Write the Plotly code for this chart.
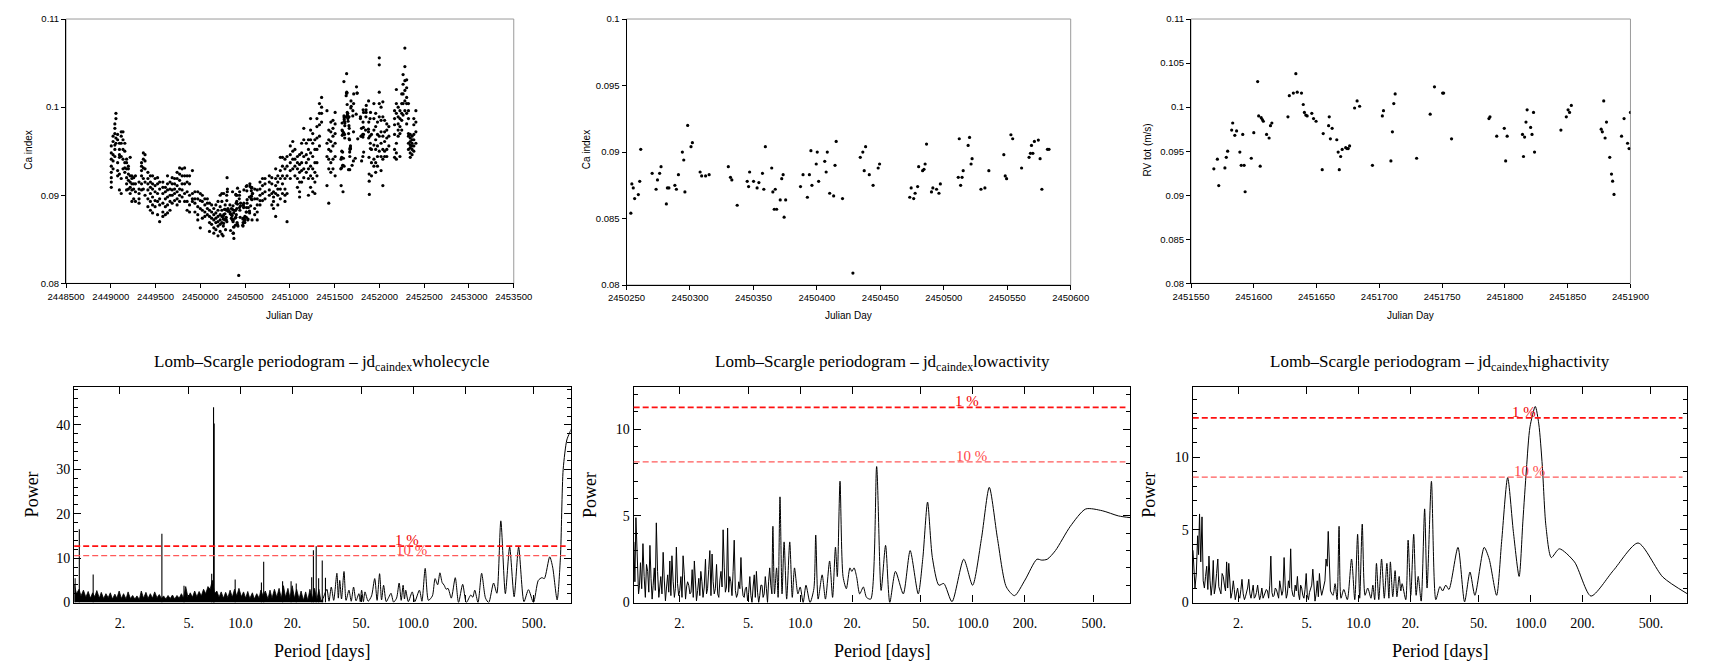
import math
import plotly.graph_objects as go

# ------------------------------------------------------------------ data
# Whole cycle Ca index: observation dates (JD) with the values read at each date
WHOLE_JD = [2449005, 2449025, 2449045, 2449057, 2449076, 2449096, 2449116, 2449136, 2449156, 2449176,
            2449196, 2449216, 2449235, 2449255, 2449275,
            2449315, 2449343, 2449363, 2449382, 2449414, 2449442, 2449466, 2449494, 2449522, 2449545,
            2449581, 2449609, 2449633, 2449661, 2449685, 2449712, 2449740, 2449768, 2449796, 2449824,
            2449852, 2449879, 2449911, 2449939,
            2449971, 2449999, 2450022, 2450050, 2450078, 2450102, 2450126, 2450150, 2450173, 2450197,
            2450221, 2450240,
            2450607, 2450635, 2450666, 2450694, 2450722, 2450770, 2450798, 2450817, 2450841, 2450865,
            2450893, 2450917, 2450945, 2450968,
            2451004, 2451032, 2451056, 2451084, 2451108, 2451131, 2451155, 2451183, 2451207, 2451231,
            2451255, 2451279, 2451302, 2451330, 2451354,
            2451414, 2451434, 2451457, 2451481, 2451505,
            2451911, 2451938, 2451958, 2451978, 2451998, 2452018, 2452038, 2452058, 2452082, 2452105,
            2452169, 2452189, 2452209, 2452229, 2452249, 2452264, 2452284, 2452304, 2452324, 2452344,
            2452364, 2452384, 2452407]
WHOLE_CA = [
    [0.0956, 0.0948, 0.0941, 0.0933, 0.0926, 0.0920, 0.0915, 0.0909],
    [0.0967, 0.0961, 0.0946, 0.0939, 0.0930],
    [0.0981, 0.0976, 0.0970, 0.0957, 0.0952, 0.0944],
    [0.0993, 0.0987, 0.0965, 0.0959],
    [0.0969, 0.0963, 0.0937, 0.0928, 0.0922],
    [0.0959, 0.0952, 0.0946, 0.0943, 0.0924, 0.0906],
    [0.0972, 0.0967, 0.0959, 0.0944, 0.0919, 0.0902],
    [0.0972, 0.0963, 0.0952, 0.0941, 0.0930],
    [0.0959, 0.0950, 0.0937, 0.0931, 0.0926],
    [0.0941, 0.0937, 0.0930, 0.0920, 0.0913, 0.0906],
    [0.0933, 0.0930, 0.0924, 0.0917, 0.0907],
    [0.0943, 0.0922, 0.0915, 0.0909, 0.0902],
    [0.0922, 0.0919, 0.0913, 0.0906, 0.0893],
    [0.0920, 0.0913, 0.0907, 0.0896],
    [0.0922, 0.0913, 0.0904, 0.0893],
    [0.0915, 0.0907, 0.0902, 0.0896, 0.0891],
    [0.0937, 0.0933, 0.0928, 0.0922, 0.0913, 0.0906],
    [0.0948, 0.0941, 0.0931, 0.0919, 0.0907],
    [0.0946, 0.0939, 0.0930, 0.0915, 0.0900],
    [0.0926, 0.0919, 0.0913, 0.0906, 0.0896, 0.0887],
    [0.0922, 0.0915, 0.0909, 0.0902, 0.0893, 0.0883],
    [0.0922, 0.0913, 0.0907, 0.0898, 0.0889, 0.0880],
    [0.0919, 0.0911, 0.0904, 0.0894, 0.0887],
    [0.0920, 0.0913, 0.0902, 0.0893, 0.0878],
    [0.0915, 0.0907, 0.0896, 0.0889, 0.0870],
    [0.0915, 0.0909, 0.0902, 0.0891, 0.0881, 0.0876],
    [0.0909, 0.0904, 0.0896, 0.0887, 0.0878],
    [0.0922, 0.0913, 0.0906, 0.0898, 0.0889, 0.0880],
    [0.0915, 0.0907, 0.0900, 0.0893, 0.0883],
    [0.0920, 0.0913, 0.0906, 0.0900, 0.0891],
    [0.0919, 0.0913, 0.0907, 0.0902, 0.0894],
    [0.0926, 0.0919, 0.0911, 0.0904, 0.0896, 0.0889],
    [0.0931, 0.0924, 0.0917, 0.0907, 0.0900, 0.0893],
    [0.0930, 0.0922, 0.0913, 0.0906, 0.0898],
    [0.0931, 0.0922, 0.0913, 0.0902, 0.0893],
    [0.0922, 0.0915, 0.0904, 0.0893, 0.0883],
    [0.0922, 0.0913, 0.0900, 0.0889, 0.0881],
    [0.0928, 0.0902, 0.0896, 0.0893],
    [0.0904, 0.0896, 0.0891, 0.0881],
    [0.0904, 0.0896, 0.0887, 0.0878, 0.0872],
    [0.0902, 0.0894, 0.0885, 0.0863],
    [0.0900, 0.0893, 0.0883, 0.0874],
    [0.0896, 0.0889, 0.0881, 0.0876],
    [0.0896, 0.0891, 0.0885, 0.0878],
    [0.0891, 0.0883, 0.0876, 0.0869, 0.0859],
    [0.0889, 0.0881, 0.0874, 0.0867],
    [0.0885, 0.0878, 0.0872, 0.0863, 0.0857],
    [0.0889, 0.0880, 0.0874, 0.0869, 0.0861],
    [0.0893, 0.0883, 0.0876, 0.0870, 0.0865, 0.0854],
    [0.0900, 0.0887, 0.0878, 0.0872, 0.0867, 0.0859],
    [0.0902, 0.0893, 0.0883, 0.0876, 0.0869, 0.0856],
    [0.0907, 0.0896, 0.0885, 0.0878],
    [0.0906, 0.0896, 0.0889, 0.0881, 0.0872],
    [0.0915, 0.0907, 0.0900, 0.0894, 0.0889],
    [0.0919, 0.0911, 0.0902, 0.0894],
    [0.0919, 0.0913, 0.0904, 0.0896],
    [0.0922, 0.0915, 0.0906, 0.0900],
    [0.0920, 0.0913, 0.0902, 0.0889],
    [0.0904, 0.0898, 0.0893, 0.0885],
    [0.0930, 0.0919, 0.0911, 0.0902, 0.0876],
    [0.0922, 0.0915, 0.0907, 0.0900, 0.0889],
    [0.0943, 0.0928, 0.0919, 0.0907, 0.0896],
    [0.0943, 0.0933, 0.0922, 0.0913, 0.0902],
    [0.0941, 0.0930, 0.0919, 0.0907, 0.0900, 0.0893],
    [0.0944, 0.0933, 0.0922, 0.0902, 0.0870],
    [0.0956, 0.0946, 0.0937, 0.0928, 0.0919],
    [0.0961, 0.0950, 0.0941, 0.0930],
    [0.0952, 0.0941, 0.0933, 0.0922],
    [0.0944, 0.0937, 0.0930, 0.0919, 0.0909],
    [0.0946, 0.0935, 0.0926, 0.0915, 0.0904, 0.0898],
    [0.0959, 0.0948, 0.0937, 0.0928, 0.0915],
    [0.0976, 0.0963, 0.0944, 0.0930, 0.0920],
    [0.0959, 0.0946, 0.0937, 0.0926],
    [0.0963, 0.0952, 0.0941, 0.0930, 0.0919, 0.0900],
    [0.0987, 0.0974, 0.0963, 0.0948, 0.0933, 0.0922, 0.0909],
    [0.0970, 0.0959, 0.0944, 0.0930, 0.0919, 0.0904],
    [0.0963, 0.0952, 0.0937, 0.0926, 0.0915, 0.0902],
    [0.0987, 0.0978, 0.0965, 0.0952, 0.0937, 0.0922],
    [0.1004, 0.0993, 0.0980, 0.0967, 0.0956],
    [0.1011, 0.1000, 0.0993, 0.0983],
    [0.0996, 0.0959, 0.0944, 0.0911],
    [0.0974, 0.0963, 0.0952, 0.0941, 0.0930, 0.0891],
    [0.0983, 0.0972, 0.0961, 0.0950, 0.0937, 0.0926],
    [0.0985, 0.0976, 0.0967, 0.0956, 0.0941, 0.0930],
    [0.0994, 0.0981, 0.0970, 0.0959, 0.0944, 0.0922],
    [0.0969, 0.0952, 0.0937, 0.0922],
    [0.1004, 0.0987, 0.0974, 0.0957, 0.0941, 0.0933],
    [0.0993, 0.0978, 0.0963, 0.0952, 0.0937, 0.0926],
    [0.0983, 0.0969, 0.0956, 0.0944, 0.0933],
    [0.1056, 0.1048, 0.1017, 0.1004, 0.0989, 0.0967, 0.0950],
    [0.1000, 0.0985, 0.0972, 0.0959, 0.0944, 0.0928],
    [0.1006, 0.0989, 0.0967, 0.0952, 0.0941, 0.0911],
    [0.0985, 0.0972, 0.0961, 0.0950, 0.0944],
    [0.0981, 0.0974, 0.0965, 0.0952, 0.0944],
    [0.0978, 0.0967, 0.0956],
    [0.0996, 0.0987, 0.0980, 0.0969, 0.0952, 0.0943],
    [0.1020, 0.1004, 0.0993, 0.0959, 0.0948, 0.0941],
    [0.1000, 0.0989, 0.0981, 0.0974, 0.0967],
    [0.0996, 0.0987, 0.0978, 0.0970, 0.0944],
    [0.1015, 0.1004, 0.0993, 0.0985, 0.0974],
    [0.1037, 0.1026, 0.1015, 0.1004, 0.0991],
    [0.1067, 0.1046, 0.1030, 0.1019, 0.1007, 0.0996],
    [0.1031, 0.1022, 0.1011, 0.1004, 0.0993, 0.0981],
    [0.1004, 0.0996, 0.0987, 0.0970, 0.0967, 0.0959, 0.0952],
    [0.0969, 0.0965, 0.0961, 0.0957, 0.0954, 0.0948, 0.0943],
    [0.0967, 0.0963, 0.0959, 0.0956, 0.0952, 0.0946],
    [0.0987, 0.0980, 0.0969, 0.0963, 0.0956, 0.0950],
    [0.0996, 0.0983, 0.0972, 0.0959],
]

# Low activity season (also part of the whole cycle)
LOW_JD = [2450253.4, 2450254.2, 2450255.3, 2450256.4, 2450259.3, 2450260.4, 2450261.2, 2450270.2, 2450273.3,
          2450274.4, 2450276.1, 2450277.2, 2450281.4, 2450282.2, 2450283.4, 2450288.1, 2450289.3, 2450290.9,
          2450294.0, 2450295.1, 2450296.0, 2450298.2, 2450300.8, 2450301.9, 2450308.0, 2450309.2, 2450312.3,
          2450315.1, 2450330.2, 2450331.9, 2450333.0, 2450337.2, 2450345.1, 2450346.2, 2450347.0, 2450350.1,
          2450352.9, 2450354.3, 2450357.1, 2450358.2, 2450359.4, 2450364.4, 2450365.3, 2450366.4, 2450367.2,
          2450368.3, 2450371.1, 2450372.3, 2450373.4, 2450374.2, 2450375.4, 2450387.1, 2450389.1, 2450392.5,
          2450394.1, 2450395.3, 2450396.1, 2450399.5, 2450400.3, 2450401.4, 2450406.2, 2450407.3, 2450408.2,
          2450410.1, 2450413.2, 2450414.3, 2450415.2, 2450420.2, 2450428.4, 2450434.2, 2450436.2, 2450437.3,
          2450438.4, 2450441.3, 2450444.3, 2450448.3, 2450449.4, 2450473.2, 2450474.3, 2450476.3, 2450477.4,
          2450479.4, 2450480.2, 2450483.3, 2450484.4, 2450485.3, 2450486.4, 2450490.3, 2450491.4, 2450494.3,
          2450496.2, 2450497.3, 2450511.4, 2450512.2, 2450513.3, 2450514.4, 2450515.3, 2450519.2, 2450520.3,
          2450521.5, 2450522.3, 2450529.3, 2450532.4, 2450535.5, 2450547.3, 2450548.4, 2450549.5, 2450552.9,
          2450554.3, 2450561.3, 2450567.2, 2450568.3, 2450569.1, 2450570.2, 2450571.4, 2450574.5, 2450575.9,
          2450577.3, 2450581.7, 2450582.9]
LOW_CA = [0.0854, 0.0876, 0.0873, 0.0865, 0.0868, 0.0878, 0.0902, 0.0884, 0.0872,
          0.0879, 0.0884, 0.0889, 0.0861, 0.0873, 0.0873, 0.0875, 0.0872, 0.0883,
          0.0900, 0.0894, 0.0870, 0.0920, 0.0904, 0.0907, 0.0885, 0.0882, 0.0882,
          0.0883, 0.0889, 0.0881, 0.0879, 0.0860, 0.0878, 0.0874, 0.0885, 0.0878,
          0.0873, 0.0877, 0.0884, 0.0872, 0.0904, 0.0888, 0.0870, 0.0857, 0.0872,
          0.0857, 0.0864, 0.0880, 0.0883, 0.0851, 0.0864, 0.0874, 0.0883, 0.0866,
          0.0883, 0.0901, 0.0875, 0.0891, 0.0900, 0.0878, 0.0893, 0.0885, 0.0900,
          0.0869, 0.0867, 0.0890, 0.0908, 0.0865, 0.0809, 0.0896, 0.0900, 0.0886,
          0.0904, 0.0883, 0.0875, 0.0888, 0.0891, 0.0866, 0.0873, 0.0865, 0.0869,
          0.0874, 0.0889, 0.0886, 0.0887, 0.0891, 0.0906, 0.0870, 0.0873, 0.0872,
          0.0869, 0.0876, 0.0881, 0.0910, 0.0875, 0.0881, 0.0886, 0.0905, 0.0911,
          0.0891, 0.0895, 0.0872, 0.0873, 0.0886, 0.0898, 0.0882, 0.0880, 0.0913,
          0.0910, 0.0888, 0.0896, 0.0899, 0.0905, 0.0899, 0.0908, 0.0909, 0.0895,
          0.0872, 0.0902, 0.0902]

# High activity season (also part of the whole cycle)
HIGH_JD = [2451568.2, 2451571.0, 2451572.1, 2451577.0, 2451578.1, 2451579.2, 2451582.4, 2451583.2, 2451584.9,
           2451586.3, 2451588.9, 2451590.0, 2451591.2, 2451592.3, 2451593.1, 2451598.0, 2451600.0, 2451603.1,
           2451603.9, 2451605.1, 2451605.9, 2451606.8, 2451607.6, 2451610.2, 2451612.2, 2451613.3, 2451614.4,
           2451627.2, 2451628.3, 2451631.5, 2451633.5, 2451634.6, 2451638.0, 2451639.4, 2451640.3, 2451641.4,
           2451642.5, 2451646.2, 2451647.6, 2451649.6, 2451654.5, 2451655.3, 2451659.6, 2451660.1, 2451661.0,
           2451662.4, 2451666.1, 2451667.2, 2451668.1, 2451669.2, 2451670.4, 2451673.2, 2451674.3, 2451675.2,
           2451676.3, 2451680.3, 2451682.3, 2451684.3, 2451694.5, 2451702.4, 2451703.3, 2451709.2, 2451710.4,
           2451711.5, 2451712.6, 2451729.7, 2451740.5, 2451743.9, 2451750.4, 2451751.2, 2451757.5, 2451787.3,
           2451788.1, 2451793.5, 2451799.5, 2451800.6, 2451801.8, 2451814.0, 2451814.8, 2451815.7, 2451816.8,
           2451817.7, 2451820.5, 2451821.6, 2451822.8, 2451823.6, 2451844.6, 2451848.9, 2451850.3, 2451851.5,
           2451852.9, 2451876.7, 2451877.6, 2451878.7, 2451879.8, 2451880.9, 2451883.5, 2451884.9, 2451885.8,
           2451886.9, 2451892.9, 2451894.9, 2451897.7, 2451898.9, 2451900.0]
HIGH_RV = [0.0930, 0.0941, 0.0911, 0.0931, 0.0943, 0.0950, 0.0974, 0.0982, 0.0968,
           0.0973, 0.0949, 0.0934, 0.0969, 0.0934, 0.0904, 0.0942, 0.0971, 0.1029,
           0.0990, 0.0933, 0.0988, 0.0986, 0.0984, 0.0969, 0.0965, 0.0979, 0.0982,
           0.0989, 0.1013, 0.1016, 0.1038, 0.1017, 0.1016, 0.1003, 0.0994, 0.0991,
           0.0990, 0.0993, 0.0987, 0.0984, 0.0929, 0.0970, 0.0979, 0.0989, 0.0964,
           0.0976, 0.0963, 0.0949, 0.0929, 0.0944, 0.0952, 0.0954, 0.0953, 0.0953,
           0.0956, 0.0999, 0.1007, 0.1001, 0.0934, 0.0990, 0.0996, 0.0939, 0.0972,
           0.1004, 0.1015, 0.0942, 0.0992, 0.1023, 0.1016, 0.1016, 0.0964, 0.0987,
           0.0989, 0.0967, 0.0976, 0.0939, 0.0967, 0.0969, 0.0944, 0.0966, 0.0983,
           0.0997, 0.0977, 0.0969, 0.0994, 0.0949, 0.0974, 0.0989, 0.0997, 0.0994,
           0.1002, 0.0975, 0.0972, 0.1007, 0.0965, 0.0983, 0.0943, 0.0924, 0.0916,
           0.0901, 0.0967, 0.0987, 0.0959, 0.0953, 0.0994]

# Periodograms: short-period grid (days) shared by the noise envelopes
GRID_P = [1.09, 1.12, 1.16, 1.19, 1.23, 1.27, 1.31, 1.35, 1.39, 1.43,
          1.47, 1.52, 1.56, 1.61, 1.66, 1.71, 1.76, 1.81, 1.87, 1.92,
          1.98, 2.04, 2.10, 2.17, 2.23, 2.30, 2.37, 2.44, 2.51, 2.59,
          2.66, 2.74, 2.83, 2.91, 3.00, 3.09, 3.18, 3.28, 3.38, 3.48,
          3.58, 3.69, 3.80, 3.91, 4.03, 4.15, 4.28, 4.41, 4.54, 4.67,
          4.81, 4.96, 5.11, 5.26, 5.42, 5.58, 5.75, 5.92, 6.10, 6.28,
          6.47, 6.66, 6.86, 7.07, 7.28, 7.50, 7.72, 7.95, 8.19, 8.44,
          8.69, 8.95, 9.22, 9.50, 9.78, 10.1, 10.4, 10.7, 11.0, 11.3,
          11.7, 12.0, 12.4, 12.8, 13.1, 13.5, 13.9, 14.4, 14.8, 15.2,
          15.7, 16.2, 16.7, 17.2, 17.7, 18.2, 18.8, 19.3, 19.9, 20.5,
          21.1, 21.8, 22.4, 23.1, 23.8, 24.5, 25.2, 26.0, 26.8, 27.6,
          28.4, 29.2, 30.1]

WHOLE_NOISE = [4.0, 2.0, 3.0, 1.5, 2.8, 1.2, 2.5, 1.0, 2.2, 1.3,
               2.7, 1.0, 2.3, 0.9, 2.0, 1.1, 2.2, 0.8, 1.9, 1.0,
               2.6, 0.9, 2.0, 0.8, 2.4, 0.9, 1.6, 0.8, 1.5, 0.7,
               2.6, 1.0, 2.3, 0.9, 2.0, 1.0, 2.4, 1.1, 1.8, 0.9,
               1.5, 0.8, 1.6, 0.9, 1.7, 0.8, 1.6, 1.0, 2.0, 1.0,
               3.6, 1.1, 2.2, 1.2, 2.6, 1.3, 2.5, 1.5, 3.0, 2.0,
               3.6, 3.0, 5.0, 2.0, 2.6, 1.2, 2.4, 1.0, 2.3, 1.1,
               2.8, 1.2, 3.0, 1.5, 3.2, 1.3, 2.4, 1.0, 2.5, 0.9,
               2.2, 0.8, 2.0, 1.0, 2.8, 1.5, 2.6, 0.8, 2.8, 1.0,
               3.0, 1.2, 3.2, 1.0, 3.8, 1.2, 3.2, 1.0, 3.8, 1.0,
               3.0, 0.8, 2.6, 0.5, 2.4, 0.5, 3.0, 0.8, 3.2, 0.5,
               3.0, 0.3, 1.0]
WHOLE_SPIKE_P = [1.10, 1.164, 1.40, 3.50, 4.7, 6.80, 6.97, 7.03, 9.3, 13.2, 13.6, 17.5, 19.6, 21.0,
                 25.8, 26.4, 27.4, 28.3, 29.7, 31.0]
WHOLE_SPIKE_W = [5.5, 16.5, 6.3, 15.5, 3.8, 6.5, 44.0, 40.3, 5.2, 4.5, 9.2, 4.8, 4.8, 4.3,
                 5.7, 11.8, 12.7, 5.5, 9.5, 5.6]
WHOLE_LONG_P = [31.6, 32.5, 33.5, 34.6, 36.1, 36.8, 37.5, 38.4, 39.7, 40.8,
                42.4, 43.7, 45.1, 46.6, 48.4, 49.3, 50.2, 51.4, 52.5, 54.8,
                57.3, 59.8, 61.7, 63.8, 65.5, 67.3, 69.7, 72.1, 74.3, 76.9,
                80.0, 82.8, 85.1, 87.3, 88.9, 90.4, 93.6, 98.6, 102, 108.5,
                112.2, 117.2, 122.4, 129, 133.7, 138.4, 142.6, 147, 151, 155,
                158.9, 166, 175, 182.8, 193.2, 202.8, 215.3, 221, 227, 237,
                248.8, 262, 273.5, 291.7, 304.8, 321.3, 341.3, 361.4, 383.7, 407.4,
                437.5, 464.5, 496.6, 529.7, 555.9, 574.1, 616.6, 641.2, 680.8, 711.2,
                737.9, 774.5, 803.5, 831]
WHOLE_LONG_W = [3.0, 0.3, 3.5, 0.5, 6.6, 1.0, 5.0, 0.8, 7.0, 0.5,
                2.8, 0.3, 3.5, 0.4, 2.0, 0.2, 2.8, 0.2, 2.4, 0.3,
                1.5, 5.4, 0.5, 6.5, 0.6, 3.9, 0.2, 1.2, 2.1, 0.1,
                1.0, 4.4, 0.5, 3.9, 0.8, 2.8, 0.2, 2.4, 0.2, 2.8,
                0.3, 7.7, 0.5, 1.5, 5.4, 4.0, 6.7, 4.5, 3.9, 3.0,
                3.2, 1.0, 5.6, 0.0, 4.1, 0.0, 1.7, 1.2, 2.8, 0.0,
                6.6, 1.0, 0.0, 4.4, 2.1, 18.4, 2.0, 12.5, 1.3, 12.5,
                0.2, 2.9, 0.0, 5.0, 5.6, 5.4, 10.3, 8.0, 0.6, 10.1,
                30.0, 36.6, 38.2, 39.5]

LOW_NOISE = [3.5, 4.9, 0.5, 2.3, 3.4, 0.3, 1.8, 3.3, 0.2, 2.0,
             4.6, 0.3, 1.5, 2.9, 0.1, 1.6, 2.4, 2.7, 0.3, 3.2,
             0.4, 1.5, 2.7, 0.2, 1.2, 0.5, 1.9, 2.4, 0.1, 1.4,
             1.8, 0.3, 2.5, 0.8, 3.0, 2.8, 0.5, 2.2, 0.3, 1.8,
             4.2, 0.6, 4.3, 1.5, 0.4, 3.6, 0.3, 1.2, 2.6, 0.4,
             0.8, 0.1, 1.5, 0.0, 1.6, 1.8, 0.0, 1.0, 0.3, 1.5,
             0.0, 2.0, 0.5]
# values read between consecutive grid periods (denser noise)
LOW_NOISE_MID = [1.2, 2.0, 1.0, 0.8, 1.5, 2.2, 0.6, 1.4, 1.0, 0.7,
                 1.8, 0.9, 0.5, 1.3, 0.9, 0.6, 0.4, 1.2, 0.8, 1.1,
                 0.7, 0.3, 1.6, 0.9, 1.0, 0.6, 0.3, 1.3, 0.7, 0.4,
                 1.2, 0.9, 0.5, 1.9, 0.4, 1.2, 0.8, 0.5, 1.3, 0.9,
                 2.0, 0.9, 0.6, 1.2, 1.8, 0.7, 0.5, 0.8, 1.0, 0.3,
                 0.9, 0.6, 0.4, 0.9, 0.3, 0.6, 0.4, 1.0, 0.5, 0.8,
                 1.2, 1.0]
LOW_LONG_P = [6.95, 7.1, 7.3, 7.45, 7.64, 7.85, 8.07, 8.35, 8.7, 9.0,
              9.27, 9.7, 10.0, 10.4, 10.8, 11.4, 12.0, 12.3, 12.7, 13.4,
              14.0, 14.8, 15.4, 16.0, 16.4, 17.0, 17.7, 18.5, 19.4, 19.9,
              20.5, 21.2, 22.1, 23.2, 24.2, 25.6, 27.7, 29.4, 31.2, 33.0,
              35.6, 39.5, 43.3, 48.2, 51.3, 54.6, 58.2, 63.5, 67.8, 75.6,
              88.4, 99.5, 112, 124.3, 138.6, 156, 174, 200, 234.5, 250,
              269, 300, 366, 449, 560, 695, 815]
LOW_LONG_W = [4.4, 0.5, 2.0, 0.3, 6.1, 0.5, 3.5, 0.2, 3.5, 0.3,
              2.0, 0.5, 0.9, 0.0, 1.0, 0.0, 0.8, 3.9, 0.2, 1.6,
              0.2, 2.4, 0.3, 3.2, 1.5, 7.0, 1.5, 0.8, 2.0, 1.8,
              2.0, 1.5, 0.5, 0.9, 0.3, 0.2, 7.85, 0.7, 3.3, 0.0,
              1.8, 0.5, 3.0, 0.5, 2.6, 5.8, 2.6, 1.0, 1.1, 0.05,
              2.5, 1.0, 3.7, 6.65, 3.7, 0.9, 0.4, 1.3, 2.5, 2.45,
              2.5, 3.0, 4.4, 5.4, 5.3, 5.0, 4.9]

HIGH_NOISE = [3.6, 1.0, 4.6, 6.1, 5.9, 1.0, 2.5, 3.2, 0.5, 2.9,
              1.0, 3.0, 0.8, 2.0, 1.2, 2.8, 2.7, 0.3, 1.5, 0.2,
              1.0, 0.3, 1.6, 0.2, 0.7, 1.6, 0.3, 1.2, 0.4, 1.2,
              0.2, 1.0, 0.5, 0.9, 0.3, 3.2, 0.4, 1.0, 0.6, 1.5,
              0.5, 3.1, 0.3, 1.5, 3.7, 0.5, 1.2, 1.8, 0.2, 1.0,
              0.3, 2.0, 0.2, 1.0, 2.3, 0.1, 1.5, 2.0, 0.5, 1.2,
              3.0, 4.9, 0.8]
HIGH_NOISE_MID = [2.5, 2.0, 3.3, 2.8, 1.5, 1.8, 0.9, 1.5, 1.2, 0.6,
                  2.0, 1.1, 0.6, 1.8, 0.8, 1.0, 1.2, 0.7, 0.9, 0.6,
                  0.5, 0.9, 0.6, 0.4, 1.0, 0.6, 0.8, 0.3, 0.7, 0.6,
                  0.5, 0.3, 0.6, 0.8, 1.2, 0.7, 0.5, 0.9, 0.3, 1.0,
                  0.8, 1.2, 0.6, 1.0, 0.9, 0.4, 0.8, 0.6, 1.2, 0.5,
                  0.9, 0.5, 0.7, 1.2, 0.8, 0.6, 0.4, 1.0, 0.8, 1.5,
                  2.5, 2.0]
HIGH_LONG_P = [7.1, 7.3, 7.5, 7.7, 7.9, 8.2, 8.6, 9.1, 9.5, 9.87,
               10.15, 10.5, 10.9, 11.3, 11.8, 12.1, 12.4, 12.7, 13.1, 13.6,
               14.1, 14.6, 15.0, 15.3, 15.8, 16.3, 16.7, 17.2, 17.6, 17.9,
               18.8, 19.4, 20.1, 20.9, 21.6, 22.2, 23.1, 24.2, 25.0, 26.5,
               28.1, 29.7, 30.8, 32.1, 33.5, 37.8, 41.3, 44.4, 47.4, 53.7,
               57.4, 63.4, 67.8, 73.5, 79.3, 85.7, 90.1, 94.5, 99.1, 106.4,
               111.5, 116.9, 122.6, 131.8, 146.8, 179.7, 224, 302, 421, 587,
               815]
HIGH_LONG_W = [0.5, 1.3, 0.2, 5.25, 0.3, 0.9, 0.2, 3.0, 0.2, 4.7,
               0.3, 5.4, 0.5, 1.0, 0.3, 1.2, 0.2, 2.7, 0.2, 3.0,
               0.3, 2.7, 0.3, 2.8, 0.4, 2.2, 0.4, 1.8, 0.8, 1.3,
               0.2, 4.3, 0.5, 4.7, 0.5, 1.8, 0.1, 6.45, 1.0, 8.35,
               0.2, 1.1, 0.8, 1.2, 0.9, 3.8, 0.05, 2.1, 0.5, 3.8,
               3.0, 0.5, 4.2, 8.6, 4.9, 1.8, 5.6, 9.2, 12.1, 13.5,
               12.3, 9.4, 5.3, 3.1, 3.7, 2.8, 0.45, 2.2, 4.1, 1.75,
               0.6]

# False-alarm levels [1 %, 10 %]
FAP_WHOLE = [12.72, 10.59]
FAP_LOW = [11.26, 8.12]
FAP_HIGH = [12.72, 8.63]
FAP_LABELS = ["1 %", "10 %"]

PERIOD_TICKS = [2, 5, 10, 20, 50, 100, 200, 500]
PERIOD_TICKTEXT = ["2.", "5.", "10.0", "20.", "50.", "100.0", "200.", "500."]
TITLES = ["Lomb\u2013Scargle periodogram \u2013 jd<sub>caindex</sub>wholecycle",
          "Lomb\u2013Scargle periodogram \u2013 jd<sub>caindex</sub>lowactivity",
          "Lomb\u2013Scargle periodogram \u2013 jd<sub>caindex</sub>highactivity"]

# ------------------------------------------------------------------ layout helpers
W, H = 1712, 670
SANS = "Liberation Sans, Arial, sans-serif"
SERIF = "Liberation Serif, Times New Roman, serif"


def fx(px):
    return px / W


def fy(py):
    return 1 - py / H


# pixel boxes (left, right, top, bottom)
BOX = {
    1: (49.1, 506.4, 13.3, 283.3),
    2: (621.6, 1075.3, 13.3, 285.0),
    3: (1198.2, 1647.1, 13.3, 283.3),
    4: (57.4, 564.5, 389.3, 609.3),
    5: (628.9, 1136.3, 389.3, 609.3),
    6: (1200.0, 1705.3, 389.3, 609.3),
}

fig = go.Figure()

# ------------------------------------------------------------------ top scatter panels
whole_x, whole_y = [], []
for d, vals in zip(WHOLE_JD, WHOLE_CA):
    for v in vals:
        whole_x.append(d)
        whole_y.append(v)
whole_x += LOW_JD + HIGH_JD
whole_y += LOW_CA + HIGH_RV

mk = dict(color="black", size=3.2, symbol="circle")
fig.add_trace(go.Scatter(x=whole_x, y=whole_y, mode="markers", marker=mk, xaxis="x", yaxis="y"))
fig.add_trace(go.Scatter(x=LOW_JD, y=LOW_CA, mode="markers", marker=mk, xaxis="x2", yaxis="y2"))
fig.add_trace(go.Scatter(x=HIGH_JD, y=HIGH_RV, mode="markers", marker=mk, xaxis="x3", yaxis="y3"))


# ------------------------------------------------------------------ periodograms
def interleave(vals, mids):
    """Merge grid values with the values read half-way (geometric) between grid periods."""
    xs, ys = [], []
    for k, v in enumerate(vals):
        xs.append(GRID_P[k])
        ys.append(v)
        if k < len(mids) and k + 1 < len(vals):
            xs.append(math.sqrt(GRID_P[k] * GRID_P[k + 1]))
            ys.append(mids[k])
    return xs, ys


LINE = dict(color="black", width=1)
SPL = dict(color="black", width=1, shape="spline", smoothing=0.7)

# whole cycle: dense noise band, narrow spikes and long-period curve
fig.add_trace(go.Scatter(x=GRID_P, y=WHOLE_NOISE, mode="lines", line=dict(color="black", width=0.8),
                         fill="tozeroy", fillcolor="black", xaxis="x4", yaxis="y4"))
sx, sy = [], []
for p, w in zip(WHOLE_SPIKE_P, WHOLE_SPIKE_W):
    sx += [p, p, None]
    sy += [0, w, None]
fig.add_trace(go.Scatter(x=sx, y=sy, mode="lines", line=dict(color="black", width=1.1),
                         xaxis="x4", yaxis="y4"))
fig.add_trace(go.Scatter(x=[GRID_P[-1]] + WHOLE_LONG_P, y=[WHOLE_NOISE[-1]] + WHOLE_LONG_W, mode="lines",
                         line=SPL, xaxis="x4", yaxis="y4"))

# low activity
lx, ly = interleave(LOW_NOISE, LOW_NOISE_MID)
fig.add_trace(go.Scatter(x=lx, y=ly, mode="lines", line=LINE, xaxis="x5", yaxis="y5"))
fig.add_trace(go.Scatter(x=[lx[-1]] + LOW_LONG_P, y=[ly[-1]] + LOW_LONG_W, mode="lines",
                         line=SPL, xaxis="x5", yaxis="y5"))

# high activity
hx, hy = interleave(HIGH_NOISE, HIGH_NOISE_MID)
fig.add_trace(go.Scatter(x=hx, y=hy, mode="lines", line=LINE, xaxis="x6", yaxis="y6"))
fig.add_trace(go.Scatter(x=[hx[-1]] + HIGH_LONG_P, y=[hy[-1]] + HIGH_LONG_W, mode="lines",
                         line=SPL, xaxis="x6", yaxis="y6"))

# ------------------------------------------------------------------ axes
layout = dict(width=W, height=H, margin=dict(l=0, r=0, t=0, b=0), showlegend=False,
              paper_bgcolor="white", plot_bgcolor="white")
shapes, annots = [], []


def top_axes(i, xr, xd, yr, yvals, ylab, xlab_x):
    l, r, t, b = BOX[i]
    sfx = "" if i == 1 else str(i)
    layout["xaxis" + sfx] = dict(domain=[fx(l), fx(r)], range=xr, tickmode="linear", tick0=xr[0], dtick=xd,
                                 tickformat="d", ticks="outside", ticklen=4, tickcolor="black",
                                 showline=True, linecolor="black", linewidth=1, showgrid=False,
                                 zeroline=False, anchor="y" + sfx,
                                 tickfont=dict(family=SANS, size=9.5, color="black"))
    layout["yaxis" + sfx] = dict(domain=[fy(b), fy(t)], range=yr, tickvals=yvals,
                                 ticktext=[("%g" % v) for v in yvals], ticks="outside", ticklen=4,
                                 tickcolor="black", showline=True, linecolor="black", linewidth=1,
                                 showgrid=False, zeroline=False, anchor="x" + sfx,
                                 tickfont=dict(family=SANS, size=9.5, color="black"))
    shapes.append(dict(type="rect", xref="paper", yref="paper", x0=fx(l), x1=fx(r), y0=fy(b), y1=fy(t),
                       line=dict(color="#9a9a9a", width=1), layer="below"))
    annots.append(dict(text="Julian Day", x=fx((l + r) / 2), y=fy(316), xref="paper", yref="paper",
                       showarrow=False, xanchor="center", yanchor="middle",
                       font=dict(family=SANS, size=10, color="black")))
    annots.append(dict(text=ylab, x=fx(xlab_x), y=fy(147), xref="paper", yref="paper", textangle=-90,
                       showarrow=False, xanchor="center", yanchor="middle",
                       font=dict(family=SANS, size=10, color="black")))


top_axes(1, [2448500, 2453500], 500, [0.08, 0.11], [0.08, 0.09, 0.1, 0.11], "Ca index", 11)
top_axes(2, [2450250, 2450600], 50, [0.08, 0.1], [0.08, 0.085, 0.09, 0.095, 0.1], "Ca index", 581.6)
top_axes(3, [2451550, 2451900], 50, [0.08, 0.11],
         [0.08, 0.085, 0.09, 0.095, 0.1, 0.105, 0.11], "RV tot (m/s)", 1153.8)


def bottom_axes(i, ymax, ydt, ymin_dt, fap, title, power_x):
    l, r, t, b = BOX[i]
    sfx = str(i)
    layout["xaxis" + sfx] = dict(domain=[fx(l), fx(r)], type="log",
                                 range=[math.log10(1.087), math.log10(815)],
                                 tickvals=PERIOD_TICKS, ticktext=PERIOD_TICKTEXT, ticks="inside",
                                 ticklen=7, tickcolor="black", tickwidth=1, mirror="allticks",
                                 ticklabelstandoff=8,
                                 showline=True, linecolor="black", linewidth=1.2, showgrid=False,
                                 zeroline=False, anchor="y" + sfx,
                                 tickfont=dict(family=SERIF, size=14, color="black"))
    layout["yaxis" + sfx] = dict(domain=[fy(b), fy(t)], range=[0, ymax], tickmode="linear", tick0=0,
                                 dtick=ydt, ticks="inside", ticklen=7, tickcolor="black", mirror="allticks",
                                 minor=dict(dtick=ymin_dt, ticks="inside", ticklen=4, tickcolor="black",
                                            showgrid=False),
                                 showline=True, linecolor="black", linewidth=1.2, showgrid=False,
                                 zeroline=False, anchor="x" + sfx,
                                 tickfont=dict(family=SERIF, size=14, color="black"))
    line_colors = ["#ff1010", "#ff5a5a"]
    text_colors = ["#f00000", "#ff4a4a"]
    widths = [1.8, 1.3]
    lab_x = [math.log10(92), math.log10(98)]
    for k in range(2):
        shapes.append(dict(type="line", xref="x" + sfx + " domain", yref="y" + sfx, x0=0, x1=0.99,
                           y0=fap[k], y1=fap[k],
                           line=dict(color=line_colors[k], width=widths[k], dash="6px,3px")))
        annots.append(dict(text=FAP_LABELS[k], x=lab_x[k], y=fap[k], xref="x" + sfx, yref="y" + sfx,
                           showarrow=False, xanchor="center", yanchor="bottom", yshift=-4,
                           font=dict(family=SERIF, size=15, color=text_colors[k])))
    annots.append(dict(text=title, x=fx((l + r) / 2), y=fy(365), xref="paper", yref="paper",
                       showarrow=False, xanchor="center", yanchor="middle",
                       font=dict(family=SERIF, size=17, color="black")))
    annots.append(dict(text="Period [days]", x=fx((l + r) / 2), y=fy(659), xref="paper", yref="paper",
                       showarrow=False, xanchor="center", yanchor="middle",
                       font=dict(family=SERIF, size=18, color="black")))
    annots.append(dict(text="Power", x=fx(power_x), y=fy((t + b) / 2), xref="paper", yref="paper",
                       textangle=-90, showarrow=False, xanchor="center", yanchor="middle",
                       font=dict(family=SERIF, size=18, color="black")))


bottom_axes(4, 48.5, 10, 2, FAP_WHOLE, TITLES[0], 13.8)
bottom_axes(5, 12.43, 5, 1, FAP_LOW, TITLES[1], 584.5)
bottom_axes(6, 14.83, 5, 1, FAP_HIGH, TITLES[2], 1155.3)

layout["shapes"] = shapes
layout["annotations"] = annots
fig.update_layout(**layout)
fig.write_html("out.html")
